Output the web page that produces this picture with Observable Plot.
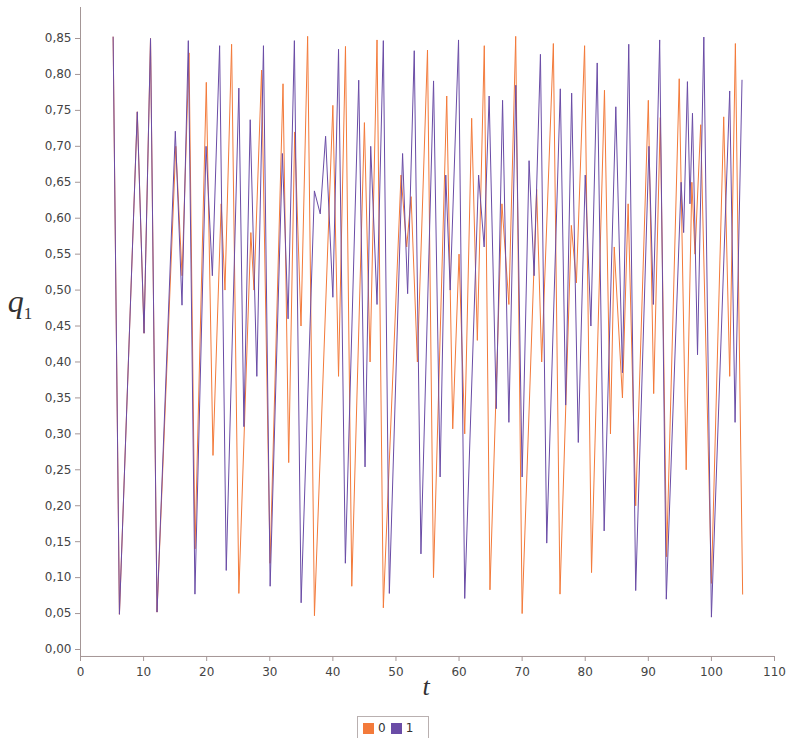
<!DOCTYPE html>
<html><head><meta charset="utf-8">
<script src="https://cdn.jsdelivr.net/npm/d3@7"></script>
<script src="https://cdn.jsdelivr.net/npm/@observablehq/plot@0.6"></script>
<style>
body{margin:0;background:#fff;font-family:"DejaVu Sans",sans-serif;}
#wrap{position:relative;width:786px;height:738px;overflow:hidden;}
#legend{position:absolute;left:357px;top:716px;width:72px;height:24px;border:1px solid #b9b0b0;box-sizing:border-box;display:flex;align-items:center;font-size:12px;color:#333;background:#fff;}
.sw{display:inline-block;width:11px;height:11px;margin:0 4px 0 5px;}
</style></head><body><div id="wrap"></div>
<script>
// series "0" (orange)
const series0T = [5.17,6.17,9.0,10.07,11.1,12.13,15.1,16.1,17.2,18.15,19.94,21.0,22.3,22.9,23.95,25.1,27.0,27.5,28.7,30.05,32.1,33.0,33.95,34.95,36.0,37.08,40.0,40.9,42.0,43.0,45.0,45.9,47.0,48.0,50.8,51.7,52.4,53.4,55.0,55.95,58.05,59.0,60.0,60.9,62.0,62.9,64.0,64.9,66.8,67.9,68.98,70.0,72.3,73.1,74.95,76.0,77.8,78.6,79.9,81.0,83.05,84.0,84.6,85.9,86.8,88.0,90.0,90.85,91.9,92.9,94.9,96.0,96.9,97.4,98.3,100.0,101.95,102.9,103.8,104.95];
const series0Q = [0.852,0.049,0.748,0.44,0.85,0.052,0.70,0.52,0.83,0.14,0.789,0.27,0.62,0.50,0.842,0.078,0.58,0.50,0.806,0.12,0.787,0.26,0.72,0.45,0.853,0.047,0.757,0.38,0.839,0.088,0.733,0.40,0.848,0.058,0.66,0.56,0.63,0.40,0.834,0.10,0.77,0.307,0.55,0.30,0.739,0.43,0.84,0.083,0.62,0.48,0.853,0.05,0.64,0.40,0.843,0.077,0.59,0.51,0.84,0.107,0.778,0.30,0.56,0.35,0.62,0.20,0.764,0.356,0.74,0.129,0.794,0.25,0.65,0.55,0.73,0.092,0.741,0.38,0.843,0.077];
// series "1" (purple)
const series1T = [5.17,6.17,9.0,10.07,11.1,12.13,15.03,16.09,17.09,18.14,19.9,20.9,22.05,23.1,25.1,25.9,26.9,27.95,29.0,30.06,32.0,32.9,33.9,34.97,37.07,38.0,38.85,40.0,40.9,41.98,44.1,45.1,46.0,47.0,48.0,48.95,51.05,51.85,52.9,53.96,55.96,57.0,57.9,58.6,59.92,60.9,63.1,63.98,64.77,65.9,66.9,67.9,69.0,70.0,71.1,71.9,72.9,73.9,76.05,76.9,77.85,78.9,80.0,80.9,81.9,83.0,84.85,85.9,86.9,88.0,90.1,90.8,91.8,92.85,95.2,95.6,96.2,96.6,97.0,97.8,98.8,100.0,102.9,103.75,104.85];
const series1Q = [0.852,0.049,0.748,0.44,0.85,0.052,0.721,0.479,0.847,0.077,0.70,0.52,0.84,0.11,0.781,0.31,0.737,0.38,0.84,0.088,0.69,0.46,0.847,0.065,0.638,0.606,0.714,0.49,0.835,0.12,0.792,0.254,0.70,0.48,0.847,0.078,0.69,0.495,0.833,0.133,0.791,0.24,0.66,0.50,0.848,0.071,0.66,0.56,0.77,0.335,0.764,0.316,0.785,0.24,0.68,0.52,0.828,0.148,0.78,0.34,0.774,0.288,0.66,0.45,0.816,0.165,0.755,0.385,0.842,0.082,0.70,0.48,0.848,0.070,0.65,0.58,0.79,0.62,0.746,0.41,0.852,0.045,0.777,0.316,0.792];
const seriesNames = ["0", "1"];
const seriesColors = ["#f37a3a", "#6a4ca6"];
const xTicks = [0,10,20,30,40,50,60,70,80,90,100,110];
const yTicks = [0,0.05,0.1,0.15,0.2,0.25,0.3,0.35,0.4,0.45,0.5,0.55,0.6,0.65,0.7,0.75,0.8,0.85];

function rows(ts, qs, s) {
  const n = Math.min(ts.length, qs.length);
  const out = [];
  for (let i = 0; i < n; i++) out.push({t: ts[i], q: qs[i], s});
  return out;
}
const d0 = rows(series0T, series0Q, seriesNames[0]);
const d1 = rows(series1T, series1Q, seriesNames[1]);
const axisColor = "#a49696";

const chart = Plot.plot({
  width: 786, height: 700,
  marginLeft: 80, marginRight: 12, marginTop: 7, marginBottom: 44,
  style: {fontFamily: "DejaVu Sans, sans-serif", fontSize: "12px", color: "#444", background: "#fff"},
  x: {domain: [0, 110], range: [80, 774], label: null},
  y: {domain: [0, 0.85], range: [649, 38], label: null},
  marks: [
    Plot.line(d0, {x: "t", y: "q", stroke: seriesColors[0], strokeWidth: 1}),
    Plot.line(d1, {x: "t", y: "q", stroke: seriesColors[1], strokeWidth: 1}),
    Plot.axisX({ticks: xTicks, tickSize: 5, tickPadding: 6, label: null, stroke: axisColor, fill: "#444"}),
    Plot.axisY({ticks: yTicks, tickSize: 5, tickPadding: 4, label: null, stroke: axisColor, fill: "#444",
      tickFormat: d => d.toFixed(2).replace(".", ",")}),
    Plot.ruleX([0], {stroke: axisColor}),
    Plot.ruleY([-0.0097], {stroke: axisColor})
  ]
});

const svg = d3.select(chart);
const ql = svg.append("text").attr("x", 20).attr("y", 312)
  .attr("font-family", "Liberation Serif, serif").attr("font-size", 32).attr("fill", "#333");
ql.append("tspan").attr("font-style", "italic").text("q");
ql.append("tspan").attr("font-size", 17).attr("dy", 7).attr("dx", 0).text("1");
svg.append("text").attr("x", 426).attr("y", 695).attr("text-anchor", "middle")
  .attr("font-family", "Liberation Serif, serif").attr("font-style", "italic")
  .attr("font-size", 26).attr("fill", "#333").text("t");

const wrap = document.getElementById("wrap");
wrap.appendChild(chart);
const leg = document.createElement("div");
leg.id = "legend";
seriesNames.forEach((name, i) => {
  const sw = document.createElement("span");
  sw.className = "sw";
  sw.style.background = seriesColors[i];
  const lab = document.createElement("span");
  lab.textContent = name;
  leg.appendChild(sw);
  leg.appendChild(lab);
});
wrap.appendChild(leg);
</script>
</body></html>
